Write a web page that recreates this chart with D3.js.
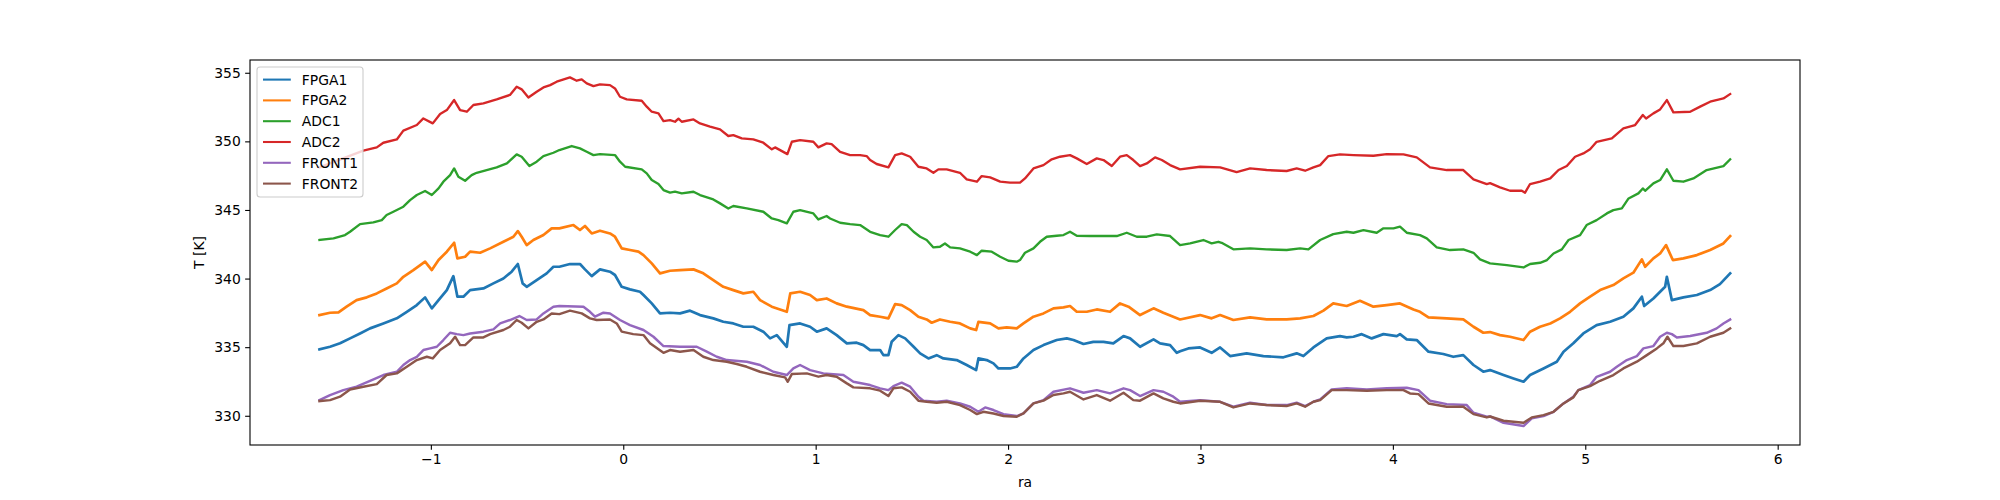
<!DOCTYPE html>
<html>
<head>
<meta charset="utf-8">
<script src="https://cdn.jsdelivr.net/npm/d3@7"></script>
<style>
  html, body { margin: 0; padding: 0; background: #ffffff; }
  svg { display: block; }
  text { font-family: "DejaVu Sans", sans-serif; fill: #000; }
</style>
</head>
<body>
<svg id="chart" width="2000" height="500"></svg>
<script>
// ---------- data (ra, T [K]) ----------
const seriesNames = ["FPGA1", "FPGA2", "ADC1", "ADC2", "FRONT1", "FRONT2"];

const FPGA1 = [[-1.579,334.84],[-1.524,335.03],[-1.472,335.28],[-1.420,335.64],[-1.368,336.00],[-1.316,336.37],[-1.247,336.73],[-1.177,337.10],[-1.125,337.58],[-1.073,338.07],[-1.030,338.63],[-0.995,337.83],[-0.960,338.43],[-0.917,339.16],[-0.883,340.18],[-0.862,338.68],[-0.831,338.68],[-0.796,339.16],[-0.727,339.28],[-0.675,339.65],[-0.623,340.01],[-0.580,340.50],[-0.548,341.06],[-0.523,339.65],[-0.502,339.40],[-0.450,339.89],[-0.398,340.38],[-0.363,340.86],[-0.332,340.86],[-0.277,341.06],[-0.225,341.06],[-0.199,340.67],[-0.164,340.18],[-0.121,340.67],[-0.069,340.50],[-0.043,340.26],[-0.008,339.40],[0.035,339.21],[0.087,339.04],[0.105,338.80],[0.148,338.19],[0.191,337.46],[0.243,337.51],[0.295,337.46],[0.347,337.66],[0.399,337.34],[0.468,337.10],[0.520,336.85],[0.572,336.73],[0.624,336.49],[0.676,336.49],[0.728,336.13],[0.763,335.64],[0.798,335.88],[0.850,335.03],[0.864,336.61],[0.919,336.73],[0.971,336.49],[1.006,336.13],[1.057,336.37],[1.109,335.88],[1.162,335.28],[1.213,335.33],[1.248,335.15],[1.283,334.79],[1.335,334.79],[1.352,334.42],[1.378,334.42],[1.395,335.39],[1.430,335.88],[1.465,335.64],[1.509,335.03],[1.543,334.55],[1.586,334.18],[1.629,334.42],[1.664,334.18],[1.733,334.06],[1.785,333.70],[1.834,333.33],[1.846,334.18],[1.889,334.06],[1.924,333.82],[1.950,333.45],[2.010,333.45],[2.045,333.57],[2.080,334.18],[2.132,334.79],[2.184,335.15],[2.253,335.52],[2.305,335.64],[2.340,335.52],[2.392,335.23],[2.443,335.39],[2.496,335.39],[2.547,335.28],[2.600,335.81],[2.634,335.64],[2.686,335.03],[2.756,335.57],[2.790,335.28],[2.842,335.15],[2.877,334.59],[2.894,334.70],[2.937,334.91],[2.998,334.98],[3.058,334.59],[3.102,334.98],[3.154,334.35],[3.240,334.55],[3.327,334.35],[3.431,334.26],[3.500,334.55],[3.535,334.35],[3.587,334.98],[3.656,335.64],[3.725,335.81],[3.760,335.71],[3.795,335.76],[3.838,335.95],[3.890,335.64],[3.951,335.95],[4.020,335.81],[4.037,335.95],[4.072,335.57],[4.124,335.52],[4.185,334.67],[4.262,334.50],[4.314,334.30],[4.366,334.42],[4.419,333.70],[4.470,333.21],[4.505,333.33],[4.575,332.97],[4.627,332.72],[4.679,332.48],[4.713,332.97],[4.783,333.45],[4.852,333.94],[4.887,334.67],[4.938,335.28],[4.990,336.00],[5.059,336.61],[5.129,336.85],[5.198,337.22],[5.250,337.83],[5.294,338.68],[5.306,338.00],[5.354,338.55],[5.389,339.04],[5.415,339.40],[5.424,340.13],[5.450,338.43],[5.510,338.63],[5.580,338.80],[5.649,339.16],[5.700,339.60],[5.753,340.38]];

const FPGA2 = [[-1.579,337.34],[-1.524,337.51],[-1.480,337.53],[-1.438,337.95],[-1.386,338.43],[-1.333,338.63],[-1.281,338.92],[-1.230,339.28],[-1.177,339.65],[-1.143,340.13],[-1.091,340.62],[-1.030,341.23],[-0.995,340.62],[-0.960,341.35],[-0.917,341.96],[-0.879,342.61],[-0.862,341.47],[-0.822,341.59],[-0.796,341.96],[-0.744,341.88],[-0.692,342.20],[-0.623,342.68],[-0.571,343.05],[-0.548,343.46],[-0.528,343.05],[-0.502,342.44],[-0.467,342.81],[-0.415,343.17],[-0.372,343.66],[-0.332,343.66],[-0.259,343.90],[-0.225,343.54],[-0.199,343.83],[-0.164,343.29],[-0.121,343.49],[-0.069,343.29],[-0.043,343.05],[-0.008,342.20],[0.035,342.08],[0.079,341.96],[0.105,341.71],[0.148,341.11],[0.191,340.38],[0.243,340.57],[0.295,340.62],[0.365,340.67],[0.416,340.38],[0.468,339.89],[0.520,339.40],[0.572,339.16],[0.624,338.92],[0.676,339.04],[0.711,338.43],[0.772,337.95],[0.850,337.58],[0.868,338.92],[0.919,339.04],[0.971,338.80],[1.006,338.43],[1.057,338.55],[1.109,338.19],[1.162,337.95],[1.205,337.83],[1.248,337.70],[1.283,337.34],[1.335,337.22],[1.378,337.10],[1.413,338.14],[1.447,338.07],[1.491,337.70],[1.534,337.22],[1.577,337.02],[1.603,336.78],[1.646,337.02],[1.699,336.85],[1.750,336.73],[1.803,336.37],[1.834,336.25],[1.846,336.85],[1.907,336.73],[1.950,336.37],[1.993,336.44],[2.045,336.37],[2.080,336.73],[2.132,337.22],[2.184,337.46],[2.236,337.83],[2.288,337.90],[2.322,338.00],[2.357,337.58],[2.409,337.58],[2.461,337.75],[2.530,337.58],[2.582,338.19],[2.626,337.95],[2.686,337.34],[2.756,337.83],[2.807,337.51],[2.894,337.02],[2.998,337.34],[3.058,337.10],[3.102,337.34],[3.171,336.98],[3.258,337.17],[3.344,337.02],[3.448,337.02],[3.518,337.10],[3.587,337.27],[3.639,337.66],[3.690,338.19],[3.760,338.00],[3.829,338.38],[3.899,337.95],[3.968,338.07],[4.037,338.19],[4.107,337.75],[4.141,337.58],[4.185,337.17],[4.280,337.10],[4.366,337.02],[4.419,336.49],[4.470,336.05],[4.505,336.10],[4.557,335.88],[4.609,335.76],[4.679,335.52],[4.713,336.13],[4.765,336.49],[4.818,336.73],[4.869,337.10],[4.921,337.58],[4.973,338.19],[5.025,338.68],[5.077,339.16],[5.146,339.53],[5.198,340.01],[5.250,340.43],[5.294,341.40],[5.311,340.86],[5.354,341.47],[5.389,341.83],[5.420,342.44],[5.455,341.35],[5.510,341.47],[5.580,341.71],[5.649,342.08],[5.718,342.56],[5.753,343.10]];

const ADC1 = [[-1.579,342.81],[-1.506,342.93],[-1.446,343.17],[-1.420,343.41],[-1.368,343.97],[-1.299,344.09],[-1.255,344.26],[-1.230,344.63],[-1.195,344.87],[-1.143,345.24],[-1.108,345.72],[-1.073,346.09],[-1.030,346.38],[-0.995,346.09],[-0.960,346.57],[-0.935,347.06],[-0.900,347.54],[-0.879,348.03],[-0.857,347.42],[-0.822,347.13],[-0.788,347.54],[-0.762,347.71],[-0.710,347.91],[-0.658,348.10],[-0.605,348.39],[-0.554,349.05],[-0.528,348.88],[-0.488,348.20],[-0.450,348.52],[-0.415,348.93],[-0.363,349.17],[-0.332,349.37],[-0.268,349.66],[-0.225,349.49],[-0.190,349.24],[-0.155,349.00],[-0.121,349.07],[-0.043,349.00],[-0.017,348.52],[0.010,348.15],[0.096,347.96],[0.122,347.67],[0.148,347.18],[0.183,346.89],[0.209,346.45],[0.243,346.26],[0.269,346.33],[0.304,346.21],[0.365,346.33],[0.399,346.09],[0.468,345.77],[0.503,345.48],[0.546,345.11],[0.572,345.29],[0.642,345.11],[0.728,344.87],[0.772,344.38],[0.806,344.26],[0.850,344.02],[0.884,344.87],[0.919,344.99],[0.988,344.75],[1.014,344.31],[1.057,344.56],[1.075,344.38],[1.127,344.07],[1.179,343.97],[1.231,343.90],[1.283,343.41],[1.335,343.17],[1.378,343.05],[1.413,343.54],[1.447,343.97],[1.474,343.90],[1.509,343.41],[1.543,343.05],[1.577,342.81],[1.612,342.27],[1.646,342.32],[1.672,342.56],[1.699,342.27],[1.750,342.20],[1.803,341.96],[1.838,341.71],[1.863,342.03],[1.915,341.96],[1.959,341.59],[2.002,341.30],[2.045,341.23],[2.062,341.35],[2.088,341.88],[2.132,342.20],[2.166,342.68],[2.201,343.05],[2.253,343.12],[2.288,343.17],[2.322,343.41],[2.357,343.12],[2.426,343.10],[2.496,343.10],[2.565,343.10],[2.617,343.34],[2.669,343.05],[2.721,343.05],[2.773,343.22],[2.842,343.10],[2.894,342.44],[2.946,342.56],[3.015,342.81],[3.058,342.56],[3.093,342.68],[3.110,342.61],[3.171,342.13],[3.258,342.20],[3.344,342.13],[3.448,342.08],[3.518,342.20],[3.561,342.13],[3.622,342.81],[3.690,343.24],[3.760,343.41],[3.795,343.34],[3.847,343.53],[3.916,343.34],[3.951,343.66],[4.003,343.66],[4.037,343.78],[4.072,343.34],[4.141,343.17],[4.176,342.93],[4.228,342.27],[4.297,342.08],[4.366,342.13],[4.419,341.88],[4.453,341.40],[4.505,341.11],[4.592,340.98],[4.679,340.81],[4.713,341.06],[4.765,341.15],[4.801,341.35],[4.835,341.83],[4.878,342.13],[4.913,342.81],[4.973,343.17],[5.007,343.90],[5.059,344.26],[5.112,344.75],[5.146,344.99],[5.190,345.11],[5.225,345.84],[5.276,346.21],[5.299,346.57],[5.311,346.40],[5.354,346.94],[5.389,347.18],[5.424,347.96],[5.458,347.13],[5.510,347.06],[5.562,347.30],[5.631,347.91],[5.718,348.20],[5.753,348.69]];

const ADC2 = [[-1.579,348.10],[-1.351,349.32],[-1.281,349.56],[-1.247,349.90],[-1.177,350.14],[-1.143,350.78],[-1.073,351.19],[-1.039,351.67],[-0.990,351.31],[-0.952,351.99],[-0.917,352.28],[-0.879,353.01],[-0.848,352.28],[-0.813,352.16],[-0.779,352.65],[-0.727,352.77],[-0.658,353.06],[-0.589,353.38],[-0.554,353.98],[-0.528,353.79],[-0.493,353.20],[-0.450,353.62],[-0.415,353.93],[-0.380,354.10],[-0.346,354.35],[-0.277,354.66],[-0.242,354.42],[-0.216,354.52],[-0.190,354.23],[-0.155,354.03],[-0.121,354.15],[-0.069,354.10],[-0.043,353.86],[-0.017,353.25],[0.018,353.06],[0.096,352.96],[0.122,352.53],[0.148,352.16],[0.183,352.04],[0.209,351.48],[0.243,351.55],[0.269,351.43],[0.287,351.65],[0.304,351.43],[0.365,351.60],[0.399,351.31],[0.451,351.07],[0.503,350.87],[0.546,350.39],[0.572,350.46],[0.616,350.22],[0.676,350.14],[0.728,349.90],[0.772,349.42],[0.789,349.56],[0.853,349.07],[0.876,349.97],[0.919,350.09],[0.988,349.97],[1.014,349.56],[1.057,349.85],[1.083,349.80],[1.127,349.24],[1.179,349.00],[1.231,349.00],[1.265,348.93],[1.283,348.64],[1.317,348.35],[1.378,348.10],[1.413,349.00],[1.447,349.12],[1.491,348.88],[1.534,348.15],[1.577,348.03],[1.612,347.71],[1.638,347.96],[1.681,347.96],[1.750,347.71],[1.785,347.23],[1.838,347.06],[1.863,347.47],[1.907,347.37],[1.959,347.06],[2.010,346.99],[2.062,346.99],[2.088,347.30],[2.132,348.03],[2.184,348.27],[2.227,348.69],[2.270,348.88],[2.322,349.00],[2.357,348.76],[2.409,348.35],[2.461,348.76],[2.496,348.64],[2.539,348.20],[2.582,348.88],[2.617,349.00],[2.651,348.64],[2.686,348.20],[2.721,348.39],[2.764,348.83],[2.799,348.64],[2.842,348.27],[2.894,347.96],[2.998,348.15],[3.102,348.10],[3.188,347.76],[3.258,348.03],[3.344,347.91],[3.448,347.84],[3.500,348.03],[3.544,347.86],[3.587,348.10],[3.622,348.27],[3.665,348.93],[3.725,349.05],[3.795,349.00],[3.899,348.95],[3.968,349.07],[4.055,349.05],[4.124,348.83],[4.193,348.10],[4.280,347.91],[4.366,347.91],[4.419,347.23],[4.488,346.89],[4.505,346.95],[4.557,346.65],[4.609,346.40],[4.670,346.40],[4.687,346.26],[4.713,346.89],[4.765,347.06],[4.818,347.30],[4.861,347.91],[4.904,348.20],[4.947,348.88],[4.990,349.12],[5.025,349.42],[5.059,349.97],[5.138,350.22],[5.198,350.94],[5.259,351.19],[5.299,351.92],[5.316,351.67],[5.354,352.04],[5.389,352.33],[5.424,353.01],[5.458,352.11],[5.545,352.16],[5.597,352.53],[5.649,352.89],[5.718,353.13],[5.753,353.45]];

const FRONT1 = [[-1.579,331.14],[-1.524,331.51],[-1.455,331.87],[-1.386,332.12],[-1.316,332.55],[-1.247,332.97],[-1.177,333.21],[-1.143,333.70],[-1.108,334.06],[-1.073,334.30],[-1.039,334.79],[-1.004,334.91],[-0.969,335.03],[-0.935,335.52],[-0.900,336.05],[-0.865,335.95],[-0.831,335.88],[-0.796,336.00],[-0.727,336.13],[-0.675,336.30],[-0.640,336.73],[-0.589,336.98],[-0.540,337.27],[-0.502,336.98],[-0.450,337.02],[-0.415,337.46],[-0.363,337.95],[-0.332,338.00],[-0.207,337.95],[-0.173,337.58],[-0.147,337.22],[-0.103,337.51],[-0.069,337.46],[-0.017,336.98],[0.035,336.61],[0.105,336.25],[0.157,335.76],[0.209,335.08],[0.295,335.03],[0.382,335.03],[0.434,334.67],[0.486,334.30],[0.538,334.06],[0.642,333.94],[0.711,333.70],[0.780,333.21],[0.850,332.97],[0.884,333.45],[0.919,333.70],[0.971,333.33],[1.040,333.09],[1.144,332.97],[1.196,332.48],[1.283,332.24],[1.335,332.00],[1.378,331.87],[1.404,332.16],[1.447,332.41],[1.491,332.12],[1.534,331.39],[1.560,331.10],[1.629,331.02],[1.681,331.10],[1.750,330.90],[1.803,330.66],[1.846,330.29],[1.881,330.61],[1.924,330.42],[1.976,330.12],[2.045,329.98],[2.080,330.17],[2.132,330.90],[2.184,331.14],[2.236,331.75],[2.322,332.00],[2.392,331.68],[2.461,331.87],[2.530,331.63],[2.600,332.00],[2.634,331.87],[2.686,331.44],[2.756,331.87],[2.807,331.75],[2.859,331.39],[2.894,331.02],[2.998,331.14],[3.102,331.02],[3.171,330.66],[3.258,330.95],[3.344,330.78],[3.448,330.78],[3.500,330.95],[3.544,330.71],[3.587,331.02],[3.622,331.19],[3.682,331.92],[3.760,332.00],[3.864,331.92],[3.968,332.00],[4.072,332.04],[4.133,331.87],[4.193,331.10],[4.280,330.85],[4.384,330.78],[4.419,330.22],[4.488,329.93],[4.505,329.95],[4.575,329.49],[4.679,329.25],[4.722,329.81],[4.783,329.98],[4.835,330.29],[4.887,330.90],[4.938,331.39],[4.964,331.87],[5.025,332.24],[5.059,332.84],[5.129,333.21],[5.164,333.57],[5.216,334.06],[5.268,334.35],[5.302,334.91],[5.354,335.08],[5.389,335.76],[5.424,336.05],[5.450,335.95],[5.476,335.71],[5.545,335.81],[5.631,336.05],[5.683,336.37],[5.718,336.73],[5.753,337.02]];

const FRONT2 = [[-1.579,331.07],[-1.524,331.14],[-1.472,331.39],[-1.420,331.92],[-1.351,332.12],[-1.281,332.31],[-1.230,332.97],[-1.177,333.09],[-1.125,333.57],[-1.073,334.06],[-1.021,334.30],[-0.990,334.18],[-0.952,334.79],[-0.900,335.28],[-0.874,335.76],[-0.848,335.15],[-0.822,335.15],[-0.779,335.71],[-0.727,335.71],[-0.692,335.95],[-0.623,336.25],[-0.589,336.49],[-0.554,336.98],[-0.528,336.78],[-0.493,336.37],[-0.450,336.85],[-0.415,337.02],[-0.372,337.46],[-0.332,337.41],[-0.277,337.66],[-0.216,337.46],[-0.173,337.10],[-0.138,336.98],[-0.069,337.02],[-0.034,336.73],[-0.008,336.13],[0.052,335.95],[0.105,335.88],[0.139,335.28],[0.209,334.59],[0.243,334.79],[0.295,334.67],[0.365,334.79],[0.416,334.30],[0.468,334.06],[0.538,333.94],[0.590,333.77],[0.642,333.57],[0.711,333.21],[0.780,332.97],[0.841,332.80],[0.855,332.48],[0.876,333.04],[0.954,333.09],[1.014,332.85],[1.057,332.97],[1.109,332.85],[1.162,332.36],[1.196,332.07],[1.283,332.00],[1.335,331.83],[1.378,331.44],[1.404,332.00],[1.447,332.07],[1.491,331.75],[1.534,331.10],[1.577,331.02],[1.629,330.95],[1.681,331.02],[1.750,330.78],[1.803,330.42],[1.838,330.12],[1.872,330.29],[1.924,330.17],[1.976,329.98],[2.045,329.93],[2.080,330.17],[2.132,330.90],[2.184,331.10],[2.236,331.51],[2.288,331.63],[2.322,331.75],[2.392,331.19],[2.461,331.51],[2.530,331.10],[2.600,331.68],[2.651,331.14],[2.686,331.10],[2.756,331.63],[2.807,331.27],[2.859,331.02],[2.894,330.90],[2.998,331.10],[3.102,331.02],[3.171,330.61],[3.258,330.90],[3.344,330.78],[3.448,330.71],[3.500,330.90],[3.544,330.66],[3.587,331.02],[3.622,331.14],[3.682,331.87],[3.760,331.87],[3.864,331.83],[3.968,331.87],[4.055,331.87],[4.089,331.63],[4.133,331.58],[4.185,330.90],[4.280,330.66],[4.366,330.66],[4.419,330.12],[4.488,329.88],[4.505,329.95],[4.575,329.64],[4.679,329.49],[4.722,329.88],[4.783,330.05],[4.835,330.29],[4.887,330.90],[4.938,331.34],[4.964,331.87],[5.025,332.16],[5.077,332.55],[5.146,332.97],[5.198,333.45],[5.268,333.94],[5.320,334.42],[5.372,334.91],[5.406,335.28],[5.427,335.76],[5.458,335.08],[5.510,335.08],[5.580,335.28],[5.649,335.76],[5.718,336.05],[5.753,336.37]];

const xTicks = [-1, 0, 1, 2, 3, 4, 5, 6];
const yTicks = [330, 335, 340, 345, 350, 355];
const xLabel = "ra";
const yLabel = "T [K]";

// ---------- styles ----------
const seriesColors = ["#1f77b4", "#ff7f0e", "#2ca02c", "#d62728", "#9467bd", "#8c564b"];
const seriesWidths = [2.7, 2.7, 2.35, 2.35, 2.45, 2.45];

// ---------- layout ----------
const M = { left: 250, right: 1800, top: 60, bottom: 445 };
const svg = d3.select("#chart");

const x = d3.scaleLinear().domain([-1.94, 6.116]).range([M.left, M.right]);
const y = d3.scaleLinear().domain([327.87, 355.93]).range([M.bottom, M.top]);

const allSeries = [FPGA1, FPGA2, ADC1, ADC2, FRONT1, FRONT2];

// clip
svg.append("defs").append("clipPath").attr("id", "clip")
  .append("rect").attr("x", M.left).attr("y", M.top)
  .attr("width", M.right - M.left).attr("height", M.bottom - M.top);

const line = d3.line().x(d => x(d[0])).y(d => y(d[1]));

const gLines = svg.append("g").attr("clip-path", "url(#clip)");
allSeries.forEach((s, i) => {
  gLines.append("path")
    .datum(s)
    .attr("d", line)
    .attr("fill", "none")
    .attr("stroke", seriesColors[i])
    .attr("stroke-width", seriesWidths[i])
    .attr("stroke-linejoin", "round")
    .attr("stroke-linecap", "square");
});

// axes
const fmt = d3.format("d");
const xAxis = d3.axisBottom(x).tickValues(xTicks).tickFormat(fmt).tickSizeInner(4.86).tickSizeOuter(0).tickPadding(4.4);
const yAxis = d3.axisLeft(y).tickValues(yTicks).tickFormat(fmt).tickSizeInner(4.86).tickSizeOuter(0).tickPadding(4.4);

const gx = svg.append("g").attr("transform", `translate(0,${M.bottom})`).call(xAxis);
const gy = svg.append("g").attr("transform", `translate(${M.left},0)`).call(yAxis);
[gx, gy].forEach(g => {
  g.select(".domain").remove();
  g.selectAll(".tick line").attr("stroke", "#000").attr("stroke-width", 1.1);
  g.selectAll(".tick text").attr("font-family", "DejaVu Sans, sans-serif").attr("font-size", 13.9).attr("fill", "#000");
});

// frame
svg.append("rect")
  .attr("x", M.left).attr("y", M.top)
  .attr("width", M.right - M.left).attr("height", M.bottom - M.top)
  .attr("fill", "none").attr("stroke", "#000").attr("stroke-width", 1.1);

// axis labels
svg.append("text")
  .attr("x", (M.left + M.right) / 2).attr("y", 487)
  .attr("text-anchor", "middle").attr("font-size", 13.9)
  .text(xLabel);
svg.append("text")
  .attr("transform", `translate(204,${(M.top + M.bottom) / 2}) rotate(-90)`)
  .attr("text-anchor", "middle").attr("font-size", 13.9)
  .text(yLabel);

// legend
const lg = svg.append("g");
lg.append("rect")
  .attr("x", 257).attr("y", 67).attr("width", 106).attr("height", 130)
  .attr("rx", 3).attr("ry", 3)
  .attr("fill", "#fff").attr("fill-opacity", 0.8)
  .attr("stroke", "#cccccc").attr("stroke-width", 1.1);
seriesNames.forEach((name, i) => {
  const yy = 79.6 + i * 20.8;
  lg.append("line")
    .attr("x1", 263).attr("x2", 290.8).attr("y1", yy).attr("y2", yy)
    .attr("stroke", seriesColors[i]).attr("stroke-width", 2.08);
  lg.append("text")
    .attr("x", 301.8).attr("y", yy).attr("dy", "0.36em")
    .attr("font-size", 13.9)
    .text(name);
});
</script>
</body>
</html>
